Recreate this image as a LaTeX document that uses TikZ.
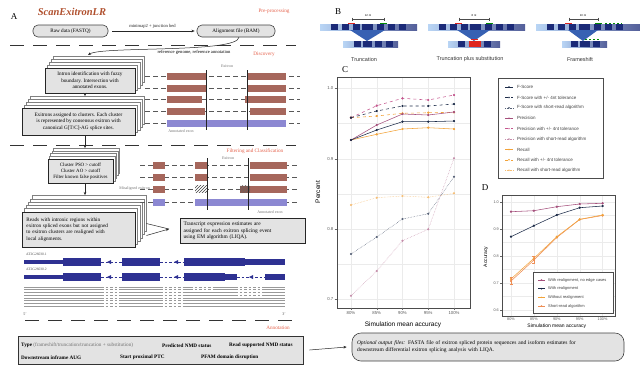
\documentclass[tikz,border=0pt]{standalone}
\usepackage{fontspec}
\setmainfont{Liberation Serif}
\newfontfamily\plotfont{Liberation Sans}
\usetikzlibrary{arrows.meta,patterns,calc}
\definecolor{secred}{HTML}{E4604A}
\definecolor{titlered}{HTML}{B0502E}
\definecolor{boxgray}{HTML}{E3E3E3}
\definecolor{exonred}{HTML}{A6675C}
\definecolor{exonblue}{HTML}{8C88D2}
\definecolor{genenavy}{HTML}{2E3192}
\definecolor{cnavy}{HTML}{1C2B48}
\definecolor{cmauve}{HTML}{A5507C}
\definecolor{cpink}{HTML}{C4568E}
\definecolor{corange}{HTML}{F2A33A}
\definecolor{csalmon}{HTML}{EE8E55}
\definecolor{sblue}{HTML}{4A86DA}
\definecolor{spale}{HTML}{B9D5F5}
\definecolor{sdark}{HTML}{1B2A78}
\definecolor{sred}{HTML}{E0241E}
\definecolor{gridc}{HTML}{EBEBEB}
\pgfdeclarelayer{background}
\pgfsetlayers{background,main}
\newcommand\mystack[4]{%
  \begin{pgfonlayer}{background}
  \foreach \i in {#2,...,1}{%
    \draw[draw=black!50,fill=white,line width=0.4pt]
      ($(#1.south west)+(\i*#3,-\i*#4)$) rectangle ($(#1.north east)+(\i*#3,-\i*#4)$);}
  \end{pgfonlayer}}
\newcommand\myexbar[4]{\fill[#4] (#1,#3-3.5) rectangle (#2,#3+3.5);}
\newcommand\mygene[4]{\fill[genenavy] (#1,#3-#4) rectangle (#2,#3+#4);}
\newcommand\myintron[4]{\draw[genenavy,line width=0.6pt,dash pattern=on 2.5pt off 2pt] (#1,#3) -- (#2,#3);
  \fill[genenavy] (#4-2,#3) -- (#4+2,#3-2) -- (#4+2,#3+2) -- cycle;}
\newcommand\mystrip[3]{\shade[left color=spale,middle color=sblue,right color=sdark!75] (#1,#3-3) rectangle (#2,#3+3);}
\newcommand\mysbox[3]{\fill[sdark] (#1,#3-3) rectangle (#1+#2,#3+3);}
\begin{document}
\begin{tikzpicture}[x=1pt,y=-1pt,
  stepbox/.style={draw=black!85,line width=0.75pt,fill=boxgray,align=center,inner sep=1.5pt,font=\fontsize{5.2}{6.3}\selectfont},
  rbox/.style={draw=black!75,line width=0.6pt,fill=boxgray,rounded corners=5pt,inner sep=1pt,font=\fontsize{5.2}{6.2}\selectfont},
  sect/.style={text=secred,font=\fontsize{5.2}{6}\selectfont,inner sep=0pt},
  lab/.style={text=black!55,font=\fontsize{4}{5}\selectfont,inner sep=0pt},
  arr/.style={-{Stealth[length=3.2pt,width=2.6pt]},line width=0.5pt,black!85},
  sepline/.style={dash pattern=on 14pt off 9pt,line width=0.75pt,black!80},
  exdash/.style={dash pattern=on 4.5pt off 3.5pt,line width=0.5pt,black!65},
  readl/.style={black!40,line width=0.5pt},
  readd/.style={black!40,line width=0.5pt,dash pattern=on 2.5pt off 2pt},
  tck/.style={font=\plotfont\fontsize{4.3}{5}\selectfont,text=black!65,inner sep=0.5pt},
  gridl/.style={gridc,line width=0.4pt},
  plt/.style={line width=0.55pt,mark=*,mark size=0.85pt,mark options={solid}},
  leg/.style={font=\plotfont\fontsize{4.5}{5}\selectfont,text=black!75,anchor=west,inner sep=0pt},
  pnl/.style={font=\fontsize{9}{10}\selectfont,inner sep=0pt},
  blab/.style={font=\plotfont\fontsize{5.5}{6}\selectfont,text=black!80,inner sep=0pt},
]
\useasboundingbox (0,0) rectangle (640,368);

%================ PANEL A =================
\node[pnl] (pA) at (14,17) {A};
\node[font=\fontsize{10.5}{12}\selectfont\bfseries\itshape,text=titlered,inner sep=0pt] (title) at (72,12) {ScanExitronLR};
\node[sect] (spre) at (274,11) {Pre-processing};
\node[rbox,minimum width=75pt,minimum height=12pt] (raw) at (70.5,31) {Raw data (FASTQ)};
\node[rbox,minimum width=78pt,minimum height=12pt] (bam) at (236,31) {Alignment file (BAM)};
\draw[arr,shorten <=4pt,shorten >=2pt] (raw) -- node[above=2pt,font=\fontsize{4.6}{5}\selectfont,inner sep=0pt] (mm) {minimap2 + junction bed} (bam);
\draw[sepline] (10,45) -- (296,45);
\coordinate (refend) at (88,55);
\draw[arr] ([xshift=3pt]bam.south) .. controls +(-2,16) and +(14,-9) .. (refend);
\node[font=\fontsize{4.6}{5}\selectfont,inner sep=0pt] (refl) at (194,52.5) {reference genome, reference annotation};
\node[sect] (sdisc) at (264,54) {Discovery};

% step boxes
\node[stepbox,minimum width=90pt,minimum height=25pt] (b1) at (90,80.5) {Intron identification with fuzzy\\boundary. Intersection with\\annotated exons.};
\mystack{b1}{4}{2.2}{2.8}
\node[stepbox,minimum width=113pt,minimum height=27pt] (b2) at (78.5,121.5) {Exitrons assigned to clusters. Each cluster\\is represented by consensus exitron with\\canonical G[T/C]-AG splice sites.};
\mystack{b2}{4}{2.2}{2.8}
\draw[sepline] (10,145) -- (296,145);
\node[stepbox,minimum width=65pt,minimum height=24pt,font=\fontsize{4.9}{6}\selectfont] (b3) at (80.5,171) {Cluster PSO > cutoff\\Cluster AO > cutoff\\Filter known false positives};
\mystack{b3}{4}{1.5}{2.6}
\node[stepbox,minimum width=113pt,minimum height=35pt,text width=104pt,align=left] (b4) at (78.5,229.5) {Reads with intronic regions within\\exitron spliced exons but not assigned\\to exitron clusters are realigned with\\local alignments.};
\mystack{b4}{5}{2.2}{3.2}
\node[stepbox,minimum width=125pt,minimum height=25pt,text width=118pt,align=left,line width=0.6pt,font=\fontsize{5.4}{6.4}\selectfont] (tbox) at (242.5,231) {Transcript expression estimates are\\assigned for each exitron splicing event\\using EM algorithm (LIQA).};

\draw[arr] ($(b1.south)+(-5,0)$) -- ($(b2.north)+(6.5,-11.5)$);
\draw[arr] ($(b2.south)+(6.5,0)$) -- ($(b3.north)+(4.5,-10.5)$);
\draw[arr] ($(b3.south)+(4.5,0)$) -- ($(b4.north)+(6.5,-16.5)$);
\coordinate (merge) at (169,229);
\draw[line width=0.5pt,black!85] ($(b4.east)+(11,-6)$) -- (merge);
\draw[arr] ($(b4.east)+(11,6)$) -- (merge);

% discovery exon schematic
\foreach \yy in {76,88,99.5,111,123} \draw[exdash] (145,\yy) -- (300,\yy);
\myexbar{167}{206}{76}{exonred}\myexbar{247}{286}{76}{exonred}
\myexbar{167}{207}{88}{exonred}\myexbar{247}{286}{88}{exonred}
\myexbar{167}{202}{99.5}{exonred}\myexbar{245}{286}{99.5}{exonred}
\myexbar{167}{205}{111}{exonred}\myexbar{250}{286}{111}{exonred}
\myexbar{167}{286}{123}{exonblue}
\draw[black!85,line width=0.5pt] (206,70) -- (206,130);
\draw[black!85,line width=0.5pt] (247,70) -- (247,130);
\node[lab] (exl1) at (227,66) {Exitron};
\node[lab] (ann1) at (181,131.5) {Annotated exon};

% filtering schematic
\node[sect] (sfilt) at (255,151.5) {Filtering and Classification};
\foreach \yy in {165,177,189,202} \draw[exdash] (140,\yy) -- (300,\yy);
\myexbar{153}{165}{165}{exonred}\myexbar{195}{207}{165}{exonred}\myexbar{250}{287}{165}{exonred}
\myexbar{153}{165}{177}{exonred}\myexbar{195}{207}{177}{exonred}\myexbar{250}{287}{177}{exonred}
\myexbar{153}{165}{189}{exonred}\myexbar{250}{287}{189}{exonred}
\fill[white] (195,185.5) rectangle (207,192.5);
\fill[pattern=north east lines,pattern color=black!75] (195,185.5) rectangle (207,192.5);
\fill[exonred!85!black] (240,185.5) rectangle (250,192.5);
\fill[pattern=north east lines,pattern color=black!60] (240,185.5) rectangle (250,192.5);
\myexbar{153}{165}{202}{exonblue}\myexbar{195}{287}{202}{exonblue}
\draw[black!85,line width=0.5pt] (207,158) -- (207,210);
\draw[black!85,line width=0.5pt] (248,158) -- (248,210);
\node[lab] (exl2) at (228,158) {Exitron};
\node[lab] (ann2) at (270,212.5) {Annotated exon};
\node[lab,anchor=east] (mis) at (150,189) {Misaligned exitron};

% gene models
\node[lab,text=black!70,font=\fontsize{3.6}{4}\selectfont,anchor=west] (t1) at (26,254.5) {AT2G26030.1};
\node[lab,text=black!70,font=\fontsize{3.6}{4}\selectfont,anchor=west] (t2) at (26,269.5) {AT2G26030.2};
\myintron{101}{122}{262}{109}\myintron{160}{184}{262}{176}
\mygene{24}{63}{262}{2}\mygene{63}{101}{262}{4}\mygene{122}{160}{262}{4}\mygene{184}{245}{262}{4}\mygene{245}{285}{262}{2.8}
\myintron{101}{122}{277}{109}\myintron{160}{184}{277}{176}\myintron{237}{265}{277}{251}
\mygene{24}{63}{277}{2}\mygene{63}{101}{277}{4}\mygene{122}{160}{277}{4}\mygene{184}{225}{277}{4}\mygene{225}{237}{277}{2.8}\mygene{265}{285}{277}{2.8}
\foreach \yy in {287,289.7,292.4,295.1,297.8,300.5,303.2,305.9}{
  \draw[readl] (24,\yy) -- (101,\yy);
  \draw[readd] (101,\yy) -- (122,\yy);
  \draw[readl] (122,\yy) -- (160,\yy);
  \draw[readd] (160,\yy) -- (184,\yy);
}
\foreach \yy in {287,289.7}{
  \draw[readl] (184,\yy) -- (190,\yy); \draw[readd] (190,\yy) -- (215,\yy);
  \draw[readl] (215,\yy) -- (235,\yy); \draw[readd] (235,\yy) -- (262,\yy); \draw[readl] (262,\yy) -- (285,\yy);}
\foreach \yy in {292.4,295.1}{
  \draw[readl] (184,\yy) -- (235,\yy); \draw[readd] (235,\yy) -- (262,\yy); \draw[readl] (262,\yy) -- (285,\yy);}
\foreach \yy in {297.8,300.5,303.2,305.9}{\draw[readl] (184,\yy) -- (285,\yy);}
\node[lab,text=black!70] (p5) at (25,314) {5'};
\node[lab,text=black!70] (p3) at (284,314) {3'};
\draw[sepline] (25,320) -- (298,320);
\node[sect] (sann) at (278,328) {Annotation};

% bottom box
\node[draw=black!80,line width=0.9pt,fill=boxgray,minimum width=285pt,minimum height=28pt] (feat) at (160.5,350) {};
\begin{scope}[every node/.style={font=\fontsize{5.2}{6}\selectfont\bfseries,anchor=west,inner sep=0pt}]
\node (f1) at (21,345.5) {Type \mdseries\color{black!55}(frameshift/truncation/truncation + substitution)};
\node (f2) at (162,345.5) {Predicted NMD status};
\node (f3) at (229,345.5) {Read supported NMD status};
\node (f4) at (21,357.5) {Downstream inframe AUG};
\node (f5) at (120,357.5) {Start proximal PTC};
\node (f6) at (201,357.5) {PFAM domain disruption};
\end{scope}
\node[draw=black!75,line width=0.6pt,fill=boxgray,rounded corners=9pt,minimum width=272pt,minimum height=28pt,text width=262pt,align=left,inner sep=2pt,font=\fontsize{5.5}{6.8}\selectfont] (opt) at (488,347) {\textit{Optional output files:} FASTA file of exitron spliced protein sequences and isoform estimates for\\downstream differential exitron splicing analysis with LIQA.};
\draw[arr] ($(feat.east)+(6,0)$) -- ($(opt.west)+(-5,0)$);

%================ PANEL B =================
\node[pnl] (pB) at (338,12) {B};
% strip 1
\mystrip{320}{417}{27}
\foreach \xx in {331,342,353,377,388,399} {\mysbox{\xx}{7}{27}}
\mysbox{362}{11}{27}
\fill[sblue!60!sdark] (350,30) -- (385,30) -- (367,41) -- cycle;
\mystrip{343}{398}{44}
\foreach \xx in {354,375,386} {\mysbox{\xx}{7}{44}}
\mysbox{363}{9}{44}
\draw[black!70,line width=0.3pt] (352,19) -- (384,19) (352,17.5) -- (352,20.5) (384,17.5) -- (384,20.5);
\node[font=\plotfont\fontsize{2.8}{3}\selectfont,inner sep=0pt] (s1) at (368,15.5) {12 nt};
\draw[sred,line width=0.8pt] (348,23) -- (355,23);
\draw[green!55!black,line width=0.8pt] (380,23) -- (387,23);
\node[blab] (lt1) at (364,60) {Truncation};
% strip 2
\mystrip{428}{525}{27}
\foreach \xx in {439,450,461,485,496,507} {\mysbox{\xx}{7}{27}}
\mysbox{470}{11}{27}
\fill[sblue!60!sdark] (457,30) -- (490,30) -- (474,41) -- cycle;
\mystrip{448}{500}{44}
\foreach \xx in {458,484} {\mysbox{\xx}{7}{44}}
\fill[sred] (469,41) rectangle (481,47);
\draw[black!70,line width=0.3pt] (459,19) -- (489,19) (459,17.5) -- (459,20.5) (489,17.5) -- (489,20.5);
\node[font=\plotfont\fontsize{2.8}{3}\selectfont,inner sep=0pt] (s2) at (474,15.5) {8 nt};
\draw[sred,line width=0.8pt] (455,23) -- (462,23);
\draw[green!55!black,line width=0.8pt] (486,23) -- (493,23);
\draw[sred,line width=0.8pt] (471,39) -- (478,39);
\node[blab] (lt2) at (470,59) {Truncation plus substitution};
% strip 3
\mystrip{536}{640}{27}
\foreach \xx in {547,558,569,594,605,616} {\mysbox{\xx}{7}{27}}
\mysbox{579}{11}{27}
\fill[sblue!60!sdark] (568,30) -- (598,30) -- (583,41) -- cycle;
\mystrip{562}{607}{44}
\foreach \xx in {571,593} {\mysbox{\xx}{7}{44}}
\mysbox{580}{10}{44}
\draw[black!70,line width=0.3pt] (569,19) -- (598,19) (569,17.5) -- (569,20.5) (598,17.5) -- (598,20.5);
\node[font=\plotfont\fontsize{2.8}{3}\selectfont,inner sep=0pt] (s3) at (583,15.5) {10 nt};
\draw[sred,line width=0.8pt] (565,23) -- (572,23);
\draw[green!55!black,line width=0.8pt] (595,23) -- (602,23);
\draw[green!55!black,line width=0.6pt,dash pattern=on 2pt off 2pt] (605,23) -- (622,23);
\draw[green!55!black,line width=0.6pt,dash pattern=on 2pt off 2pt] (585,39) -- (600,39);
\node[blab] (lt3) at (580,60) {Frameshift};

%================ PANEL C =================
\node[pnl] (pC) at (345,70) {C};
\foreach \yy in {88,123.5,159,194,229,264,299} \draw[gridl] (337,\yy) -- (470,\yy);
\foreach \xx in {351,376.75,402.5,428.25,454} \draw[gridl] (\xx,77) -- (\xx,308);
\draw[black!70,line width=0.5pt] (337,77) rectangle (470,308);
\foreach \yy/\tl in {88/1.0,159/0.9,229/0.8,299/0.7} {\node[tck,anchor=east] at (334,\yy) {\tl}; \draw[black!60,line width=0.3pt] (334.5,\yy) -- (337,\yy);}
\foreach \xx/\tl in {351/80,376.75/85,402.5/90,428.25/95,454/100} {\node[tck,anchor=north] at (\xx,310.5) {\tl\%}; \draw[black!60,line width=0.3pt] (\xx,308) -- (\xx,310);}
\node[font=\plotfont\fontsize{6.5}{7}\selectfont,rotate=90,inner sep=0pt] (yC) at (318,192) {Percent};
\node[font=\plotfont\fontsize{6.5}{7}\selectfont,inner sep=0pt] (xC) at (403,324.5) {Simulation mean accuracy};
% series
\draw[plt,corange!70,densely dotted,line width=0.45pt] plot coordinates {(351,205) (376.75,197.7) (402.5,196) (428.25,197.3) (454,193.3)};
\draw[plt,cmauve!65,densely dotted,line width=0.45pt] plot coordinates {(351,295.7) (376.75,271) (402.5,240.7) (428.25,229.3) (454,158.3)};
\draw[plt,cnavy!75,densely dotted,line width=0.45pt] plot coordinates {(351,254) (376.75,237) (402.5,219) (428.25,213.7) (454,176.7)};
\draw[plt,corange] plot coordinates {(351,140) (376.75,134.3) (402.5,129) (428.25,127.7) (454,129)};
\draw[plt,corange,dashed] plot coordinates {(351,117.7) (376.75,116) (402.5,113.3) (428.25,112.7) (454,112.3)};
\draw[plt,cmauve] plot coordinates {(351,140) (376.75,125) (402.5,114) (428.25,115) (454,112)};
\draw[plt,cpink,dashed] plot coordinates {(351,117.7) (376.75,105.7) (402.5,98.3) (428.25,100) (454,95)};
\draw[plt,cnavy] plot coordinates {(351,140) (376.75,130) (402.5,121.7) (428.25,121.7) (454,121)};
\draw[plt,cnavy,dashed] plot coordinates {(351,117.7) (376.75,111) (402.5,106) (428.25,106) (454,104)};
% legend C
\draw[black!70,line width=0.6pt,fill=white] (498,78) rectangle (603,178);
\foreach \yy/\st/\cc/\tl in {87/solid/cnavy/{F-Score}, 97.4/dashed/cnavy/{F-Score with +/- 4nt tolerance}, 107.8/densely dotted/cnavy!75/{F-Score with short-read algorithm}, 118.2/solid/cmauve/{Precision}, 128.6/dashed/cpink/{Precision with +/- 4nt tolerance}, 139/densely dotted/cmauve!65/{Precision with short-read algorithm}, 149.4/solid/corange/{Recall}, 159.8/dashed/corange/{Recall with +/- 4nt tolerance}, 170.2/densely dotted/corange!70/{Recall with short-read algorithm}}{
  \draw[\cc,\st,line width=0.55pt] (505,\yy) -- (513,\yy);
  \fill[\cc] (509,\yy) circle (0.85pt);
  \node[leg] at (517,\yy) {\tl};}

%================ PANEL D =================
\node[pnl] (pD) at (485,188) {D};
\foreach \yy in {202,215.5,229,242.5,256,269.5,283,296.5,310} \draw[gridl] (502,\yy) -- (615,\yy);
\foreach \xx in {511,533.9,556.8,579.7,602.6} \draw[gridl] (\xx,195) -- (\xx,316);
\draw[black!70,line width=0.5pt] (502,195) rectangle (615,316);
\foreach \yy/\tl in {202/1.0,229/0.9,256/0.8,283/0.7,310/0.6} {\node[tck,anchor=east,font=\plotfont\fontsize{3.8}{4}\selectfont] at (499.5,\yy) {\tl}; \draw[black!60,line width=0.3pt] (500,\yy) -- (502,\yy);}
\foreach \xx/\tl in {511/80,533.9/85,556.8/90,579.7/95,602.6/100} {\node[tck,anchor=north,font=\plotfont\fontsize{3.8}{4}\selectfont] at (\xx,317.5) {\tl\%};}
\node[font=\plotfont\fontsize{5}{6}\selectfont,rotate=90,inner sep=0pt] (yD) at (486,257) {Accuracy};
\node[font=\plotfont\fontsize{5}{6}\selectfont,inner sep=0pt] (xD) at (556.8,326.5) {Simulation mean accuracy};
\draw[plt,csalmon] plot coordinates {(511,281) (533.9,260) (556.8,237.5) (579.7,219.5) (602.6,215.5)};
\draw[plt,corange] plot coordinates {(511,279) (533.9,258.3) (556.8,236.7) (579.7,219.3) (602.6,215)};
\draw[plt,cnavy] plot coordinates {(511,236.7) (533.9,225.7) (556.8,215) (579.7,207.7) (602.6,206)};
\draw[plt,cmauve] plot coordinates {(511,211.7) (533.9,210.7) (556.8,206.7) (579.7,204) (602.6,203.3)};
\draw[csalmon,line width=0.4pt] (511,277) -- (511,284) (509.5,277) -- (512.5,277) (509.5,284) -- (512.5,284);
\draw[csalmon,line width=0.4pt] (533.9,256) -- (533.9,263) (532.4,256) -- (535.4,256) (532.4,263) -- (535.4,263);
% legend D
\draw[black!70,line width=0.6pt,fill=white] (533,272) rectangle (613,313);
\foreach \yy/\cc/\tl in {280/cmauve/{With realignment, no edge cases}, 288.7/cnavy/{With realignment}, 297.3/corange/{Without realignment}, 306/csalmon/{Short-read algorithm}}{
  \draw[\cc,line width=0.55pt] (538,\yy) -- (545,\yy);
  \fill[\cc] (541.5,\yy) circle (0.8pt);
  \node[leg,font=\plotfont\fontsize{4}{5}\selectfont] at (548,\yy) {\tl};}
\end{tikzpicture}
\end{document}
